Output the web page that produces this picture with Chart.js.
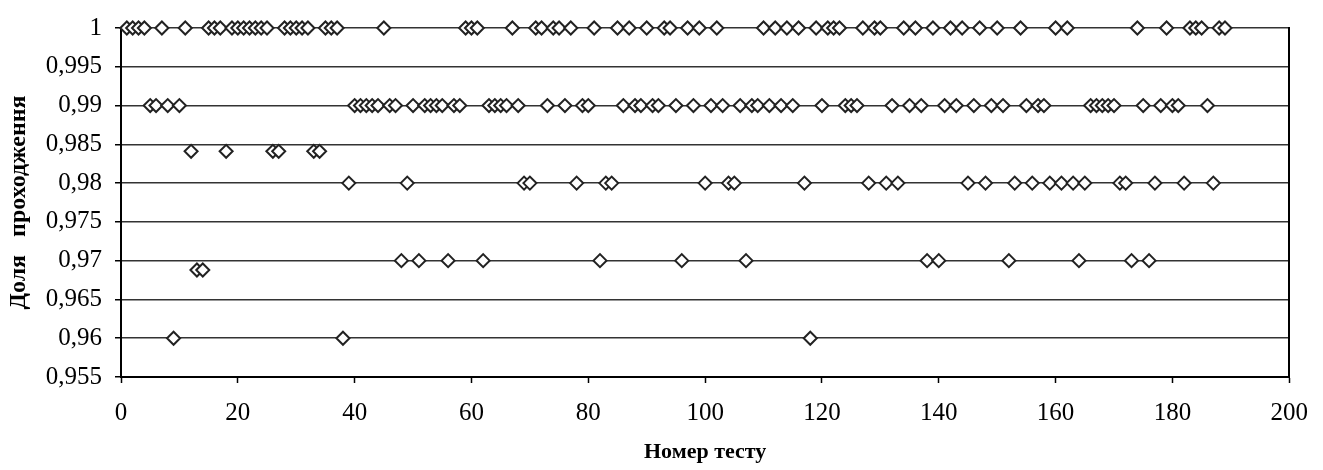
<!DOCTYPE html>
<html>
<head>
<meta charset="utf-8">
<script src="https://cdn.jsdelivr.net/npm/chart.js@4/dist/chart.umd.min.js"></script>
<style>
  body { margin: 0; background: #fff; }
  canvas { display: block; }
</style>
</head>
<body>
<canvas id="chart" width="1323" height="470"></canvas>
<script>
// номери тестів для кожного рівня долі проходження
const tests100 = [1, 2, 3, 4, 7, 11, 15, 16, 17, 19, 20, 21, 22, 23, 24, 25, 28, 29, 30, 31, 32,
  35, 36, 37, 45, 59, 60, 61, 67, 71, 72, 74, 75, 77, 81, 85, 87, 90, 93, 94, 97, 99, 102,
  110, 112, 114, 116, 119, 121, 122, 123, 127, 129, 130, 134, 136, 139, 142, 144, 147, 150,
  154, 160, 162, 174, 179, 183, 184, 185, 188, 189];
const tests099 = [5, 6, 8, 10, 40, 41, 42, 43, 44, 46, 47, 50, 52, 53, 54, 55, 57, 58, 63, 64,
  65, 66, 68, 73, 76, 79, 80, 86, 88, 89, 91, 92, 95, 98, 101, 103, 106, 108, 109, 111, 113,
  115, 120, 124, 125, 126, 132, 135, 137, 141, 143, 146, 149, 151, 155, 157, 158, 166, 167,
  168, 169, 170, 175, 178, 180, 181, 186];
const tests0984 = [12, 18, 26, 27, 33, 34];
const tests098 = [39, 49, 69, 70, 78, 83, 84, 100, 104, 105, 117, 128, 131, 133, 145, 148, 153,
  156, 159, 161, 163, 165, 171, 172, 177, 182, 187];
const tests097 = [48, 51, 56, 62, 82, 96, 107, 138, 140, 152, 164, 173, 176];
const tests0969 = [13, 14];
const tests096 = [9, 38, 118];

const levels = [1, 0.99, 0.9841, 0.98, 0.97, 0.9688, 0.96];
const testGroups = [tests100, tests099, tests0984, tests098, tests097, tests0969, tests096];

const yTickLabels = ['0,955', '0,96', '0,965', '0,97', '0,975', '0,98', '0,985', '0,99', '0,995', '1'];

Chart.defaults.font.family = '"Liberation Serif", "Times New Roman", serif';
Chart.defaults.color = '#000';

const datasets = testGroups.map(function (group, i) {
  return {
    data: group.map(function (t) { return { x: t, y: levels[i] }; }),
    clip: false,
    pointStyle: 'rectRot',
    pointRadius: 6.5,
    pointHoverRadius: 6.5,
    pointBorderWidth: 2,
    pointBorderColor: '#222',
    pointBackgroundColor: '#fff',
    showLine: false
  };
});

new Chart(document.getElementById('chart'), {
  type: 'scatter',
  data: { datasets: datasets },
  options: {
    responsive: false,
    animation: false,
    events: [],
    layout: { padding: { top: 23, right: 33, bottom: 0, left: 0 } },
    plugins: { legend: { display: false }, tooltip: { enabled: false } },
    scales: {
      x: {
        type: 'linear',
        min: 0,
        max: 200,
        afterFit: function (scale) { scale.height = 93; },
        ticks: { stepSize: 20, padding: 15, font: { size: 25 } },
        grid: { drawOnChartArea: false, tickLength: 6, tickColor: '#000', tickWidth: 1.5 },
        border: { color: '#000', width: 2 },
        title: {
          display: true,
          text: 'Номер тесту',
          font: { size: 22, weight: 'bold' },
          padding: { top: 0, bottom: 4 }
        }
      },
      y: {
        type: 'linear',
        min: 0.955,
        max: 1,
        afterFit: function (scale) { scale.width = 121; },
        ticks: {
          stepSize: 0.005,
          padding: 13,
          font: { size: 25 },
          callback: function (v) { return yTickLabels[Math.round((v - 0.955) / 0.005)]; }
        },
        grid: { color: '#333', lineWidth: 1.5, tickLength: 6, tickColor: '#000', tickWidth: 1.5 },
        border: { color: '#000', width: 2 },
        title: {
          display: true,
          text: 'Доля   проходження',
          font: { size: 24, weight: 'bold' },
          padding: { top: 4, bottom: 0 }
        }
      },
      y2: {
        type: 'linear',
        position: 'right',
        afterFit: function (scale) { scale.width = 0; },
        ticks: { display: false },
        grid: { display: false },
        border: { display: true, color: '#000', width: 2 }
      }
    }
  }
});
</script>
</body>
</html>
